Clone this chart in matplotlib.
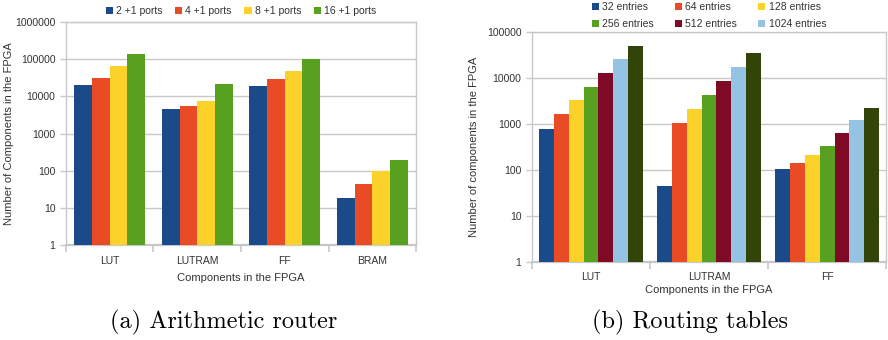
import matplotlib.pyplot as plt
import numpy as np

plt.rcParams['font.family'] = ['Liberation Sans', 'DejaVu Sans']

# (a) Arithmetic router
router_cats = ['LUT', 'LUTRAM', 'FF', 'BRAM']
router_series = ['2 +1 ports', '4 +1 ports', '8 +1 ports', '16 +1 ports']
router_vals = [
    [20000, 4500, 18700, 18],
    [31000, 5500, 29000, 44],
    [65000, 7400, 48000, 100],
    [135000, 21000, 100000, 190],
]

# (b) Routing tables
table_cats = ['LUT', 'LUTRAM', 'FF']
table_series = ['32 entries', '64 entries', '128 entries', '256 entries',
                '512 entries', '1024 entries']
table_vals = [
    [780, 45, 105],
    [1650, 1050, 142],
    [3300, 2100, 212],
    [6300, 4250, 330],
    [12800, 8500, 640],
    [25800, 17300, 1230],
    [50000, 35000, 2220],
]
colors = ['#1a4a8a', '#e94b24', '#fbd22a', '#57a020', '#7e0a25', '#95c3e4', '#334408']
grid_c = '#c8c8c8'


def bar_panel(ax, cats, vals, width_frac, ymax, ylabel, pad, lpad, ylpad):
    n = len(vals)
    x = np.arange(len(cats))
    w = width_frac / n
    handles = []
    for i, v in enumerate(vals):
        h = ax.bar(x + 0.5 - width_frac / 2 + w * (i + 0.5), v, w, bottom=1,
                   color=colors[i], zorder=3)
        handles.append(h)
    ax.set_yscale('log')
    ax.set_ylim(1, ymax)
    ax.set_xlim(0, len(cats))
    decs = range(int(np.log10(ymax)) + 1)
    ax.set_yticks([10 ** k for k in decs])
    ax.set_yticklabels([str(10 ** k) for k in decs])
    ax.minorticks_off()
    ax.yaxis.grid(True, color=grid_c, lw=1, zorder=0)
    ax.set_xticks(x + 0.5)
    ax.set_xticklabels(cats)
    ax.set_xticks(np.arange(len(cats) + 1), minor=True)
    ax.tick_params(axis='x', which='major', length=0, labelsize=7.5, colors='#333333', pad=pad)
    ax.tick_params(axis='x', which='minor', length=5, color=grid_c, width=1.2)
    ax.tick_params(axis='y', length=4, color=grid_c, labelsize=7.5, labelcolor='#333333', width=1)
    for s in ax.spines.values():
        s.set_color(grid_c)
        s.set_linewidth(1)
    ax.spines['bottom'].set_linewidth(1.6)
    ax.set_xlabel('Components in the FPGA', fontsize=8, color='#333333', labelpad=lpad)
    ax.set_ylabel(ylabel, fontsize=8, color='#333333', labelpad=ylpad)
    return handles


fig = plt.figure(figsize=(8.88, 3.4), dpi=100)
ax1 = fig.add_axes([0.0743, 0.279, 0.3942, 0.656])
ax2 = fig.add_axes([0.599, 0.229, 0.399, 0.677])

h1 = bar_panel(ax1, router_cats, router_vals, 0.81, 1000000,
               'Number of Components in the FPGA', 8, 5, 1)
ax1.legend(h1, router_series, loc='lower center', bbox_to_anchor=(0.5, 1.0),
           ncol=4, frameon=False, fontsize=7.5, handlelength=0.7, handleheight=0.7,
           handletextpad=0.3, columnspacing=1.2, borderaxespad=0.2, labelcolor='#333333')

h2 = bar_panel(ax2, table_cats, table_vals, 0.88, 100000,
               'Number of components in the FPGA', 7, 2, 6)
order = [0, 3, 1, 4, 2, 5]
ax2.legend([h2[i] for i in order], [table_series[i] for i in order],
           loc='lower center', bbox_to_anchor=(0.5, 1.0), ncol=3, frameon=False,
           fontsize=7.5, handlelength=0.7, handleheight=0.7, handletextpad=0.3,
           columnspacing=2.0, labelspacing=0.7, borderaxespad=-0.15, labelcolor='#333333')

fig.text(0.252, 0.035, '(a) Arithmetic router', family='cmr10', fontsize=17.5, ha='center')
fig.text(0.777, 0.035, '(b) Routing tables', family='cmr10', fontsize=17.5, ha='center')

fig.savefig('out.png', dpi=100)
